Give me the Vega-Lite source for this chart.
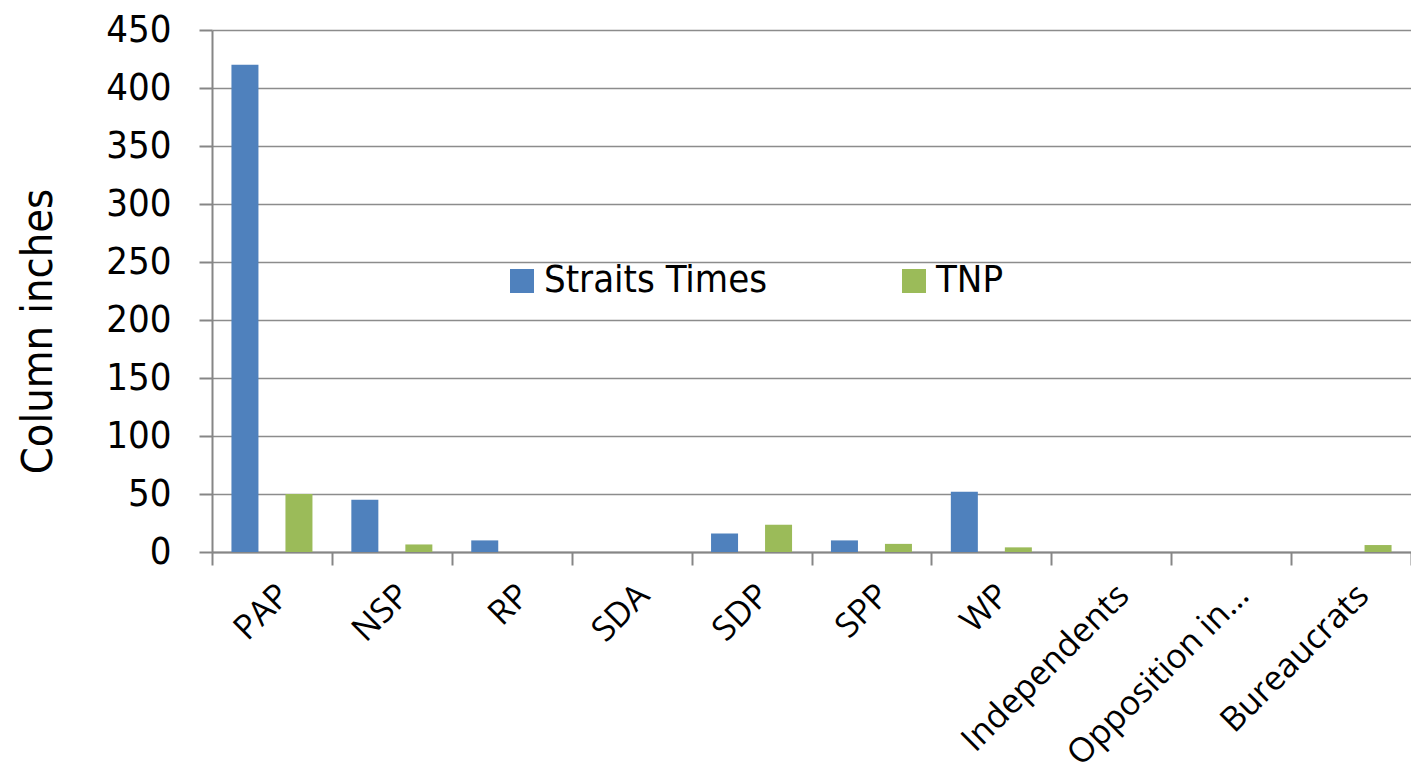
{
  "$schema": "https://vega.github.io/schema/vega-lite/v6.json",
  "autosize": {"type": "none"},
  "width": 1199,
  "height": 522,
  "padding": {"left": 212, "top": 30, "right": 0, "bottom": 224},
  "background": "white",
  "data": {
    "values": [
      {"party": "PAP", "paper": "Straits Times", "inches": 420},
      {"party": "PAP", "paper": "TNP", "inches": 50},
      {"party": "NSP", "paper": "Straits Times", "inches": 45},
      {"party": "NSP", "paper": "TNP", "inches": 6.5},
      {"party": "RP", "paper": "Straits Times", "inches": 10},
      {"party": "RP", "paper": "TNP", "inches": 0},
      {"party": "SDA", "paper": "Straits Times", "inches": 0},
      {"party": "SDA", "paper": "TNP", "inches": 0},
      {"party": "SDP", "paper": "Straits Times", "inches": 16},
      {"party": "SDP", "paper": "TNP", "inches": 23.5},
      {"party": "SPP", "paper": "Straits Times", "inches": 10},
      {"party": "SPP", "paper": "TNP", "inches": 7},
      {"party": "WP", "paper": "Straits Times", "inches": 52},
      {"party": "WP", "paper": "TNP", "inches": 4},
      {"party": "Independents", "paper": "Straits Times", "inches": 0},
      {"party": "Independents", "paper": "TNP", "inches": 0},
      {"party": "Opposition in…", "paper": "Straits Times", "inches": 0},
      {"party": "Opposition in…", "paper": "TNP", "inches": 0},
      {"party": "Bureaucrats", "paper": "Straits Times", "inches": 0},
      {"party": "Bureaucrats", "paper": "TNP", "inches": 6}
    ]
  },
  "mark": {"type": "bar"},
  "encoding": {
    "x": {
      "field": "party",
      "type": "nominal",
      "sort": null,
      "scale": {"paddingInner": 0, "paddingOuter": 0},
      "axis": {
        "title": null,
        "tickBand": "extent",
        "domainColor": "#868686",
        "domainWidth": 2,
        "tickColor": "#868686",
        "tickWidth": 2,
        "tickSize": 13,
        "labelAngle": -45,
        "labelAlign": "right",
        "labelBaseline": "top",
        "labelFont": "Open Sans",
        "labelFontSize": 34,
        "labelColor": "#000000",
        "labelPadding": 13,
        "labelLimit": 400,
        "grid": false
      }
    },
    "xOffset": {
      "field": "paper",
      "type": "nominal",
      "scale": {"paddingInner": 0.5, "paddingOuter": 0.36}
    },
    "y": {
      "field": "inches",
      "type": "quantitative",
      "scale": {"domain": [0, 450], "nice": false},
      "axis": {
        "title": "Column inches",
        "titleFont": "DejaVu Sans Condensed",
        "titleFontSize": 43,
        "titleFontWeight": "normal",
        "titleColor": "#000000",
        "titleAngle": -90,
        "titleAlign": "center",
        "titleBaseline": "alphabetic",
        "titleX": -161,
        "titleY": 301,
        "values": [0, 50, 100, 150, 200, 250, 300, 350, 400, 450],
        "domainColor": "#868686",
        "domainWidth": 2,
        "tickColor": "#868686",
        "tickWidth": 2,
        "tickSize": 13,
        "gridColor": "#8c8c8c",
        "gridWidth": 1.5,
        "labelFont": "DejaVu Sans Condensed",
        "labelFontSize": 38,
        "labelColor": "#000000",
        "labelPadding": 28
      }
    },
    "color": {
      "field": "paper",
      "type": "nominal",
      "scale": {"domain": ["Straits Times", "TNP"], "range": ["#4F81BD", "#9BBB59"]},
      "legend": {
        "title": null,
        "orient": "none",
        "direction": "horizontal",
        "columns": 2,
        "legendX": 291,
        "legendY": 232,
        "symbolType": "square",
        "symbolSize": 576,
        "symbolStrokeWidth": 0,
        "labelFont": "DejaVu Sans Condensed",
        "labelFontSize": 38,
        "labelColor": "#000000",
        "labelOffset": 3,
        "columnPadding": 127,
        "labelLimit": 400
      }
    }
  },
  "config": {"view": {"stroke": null}}
}
